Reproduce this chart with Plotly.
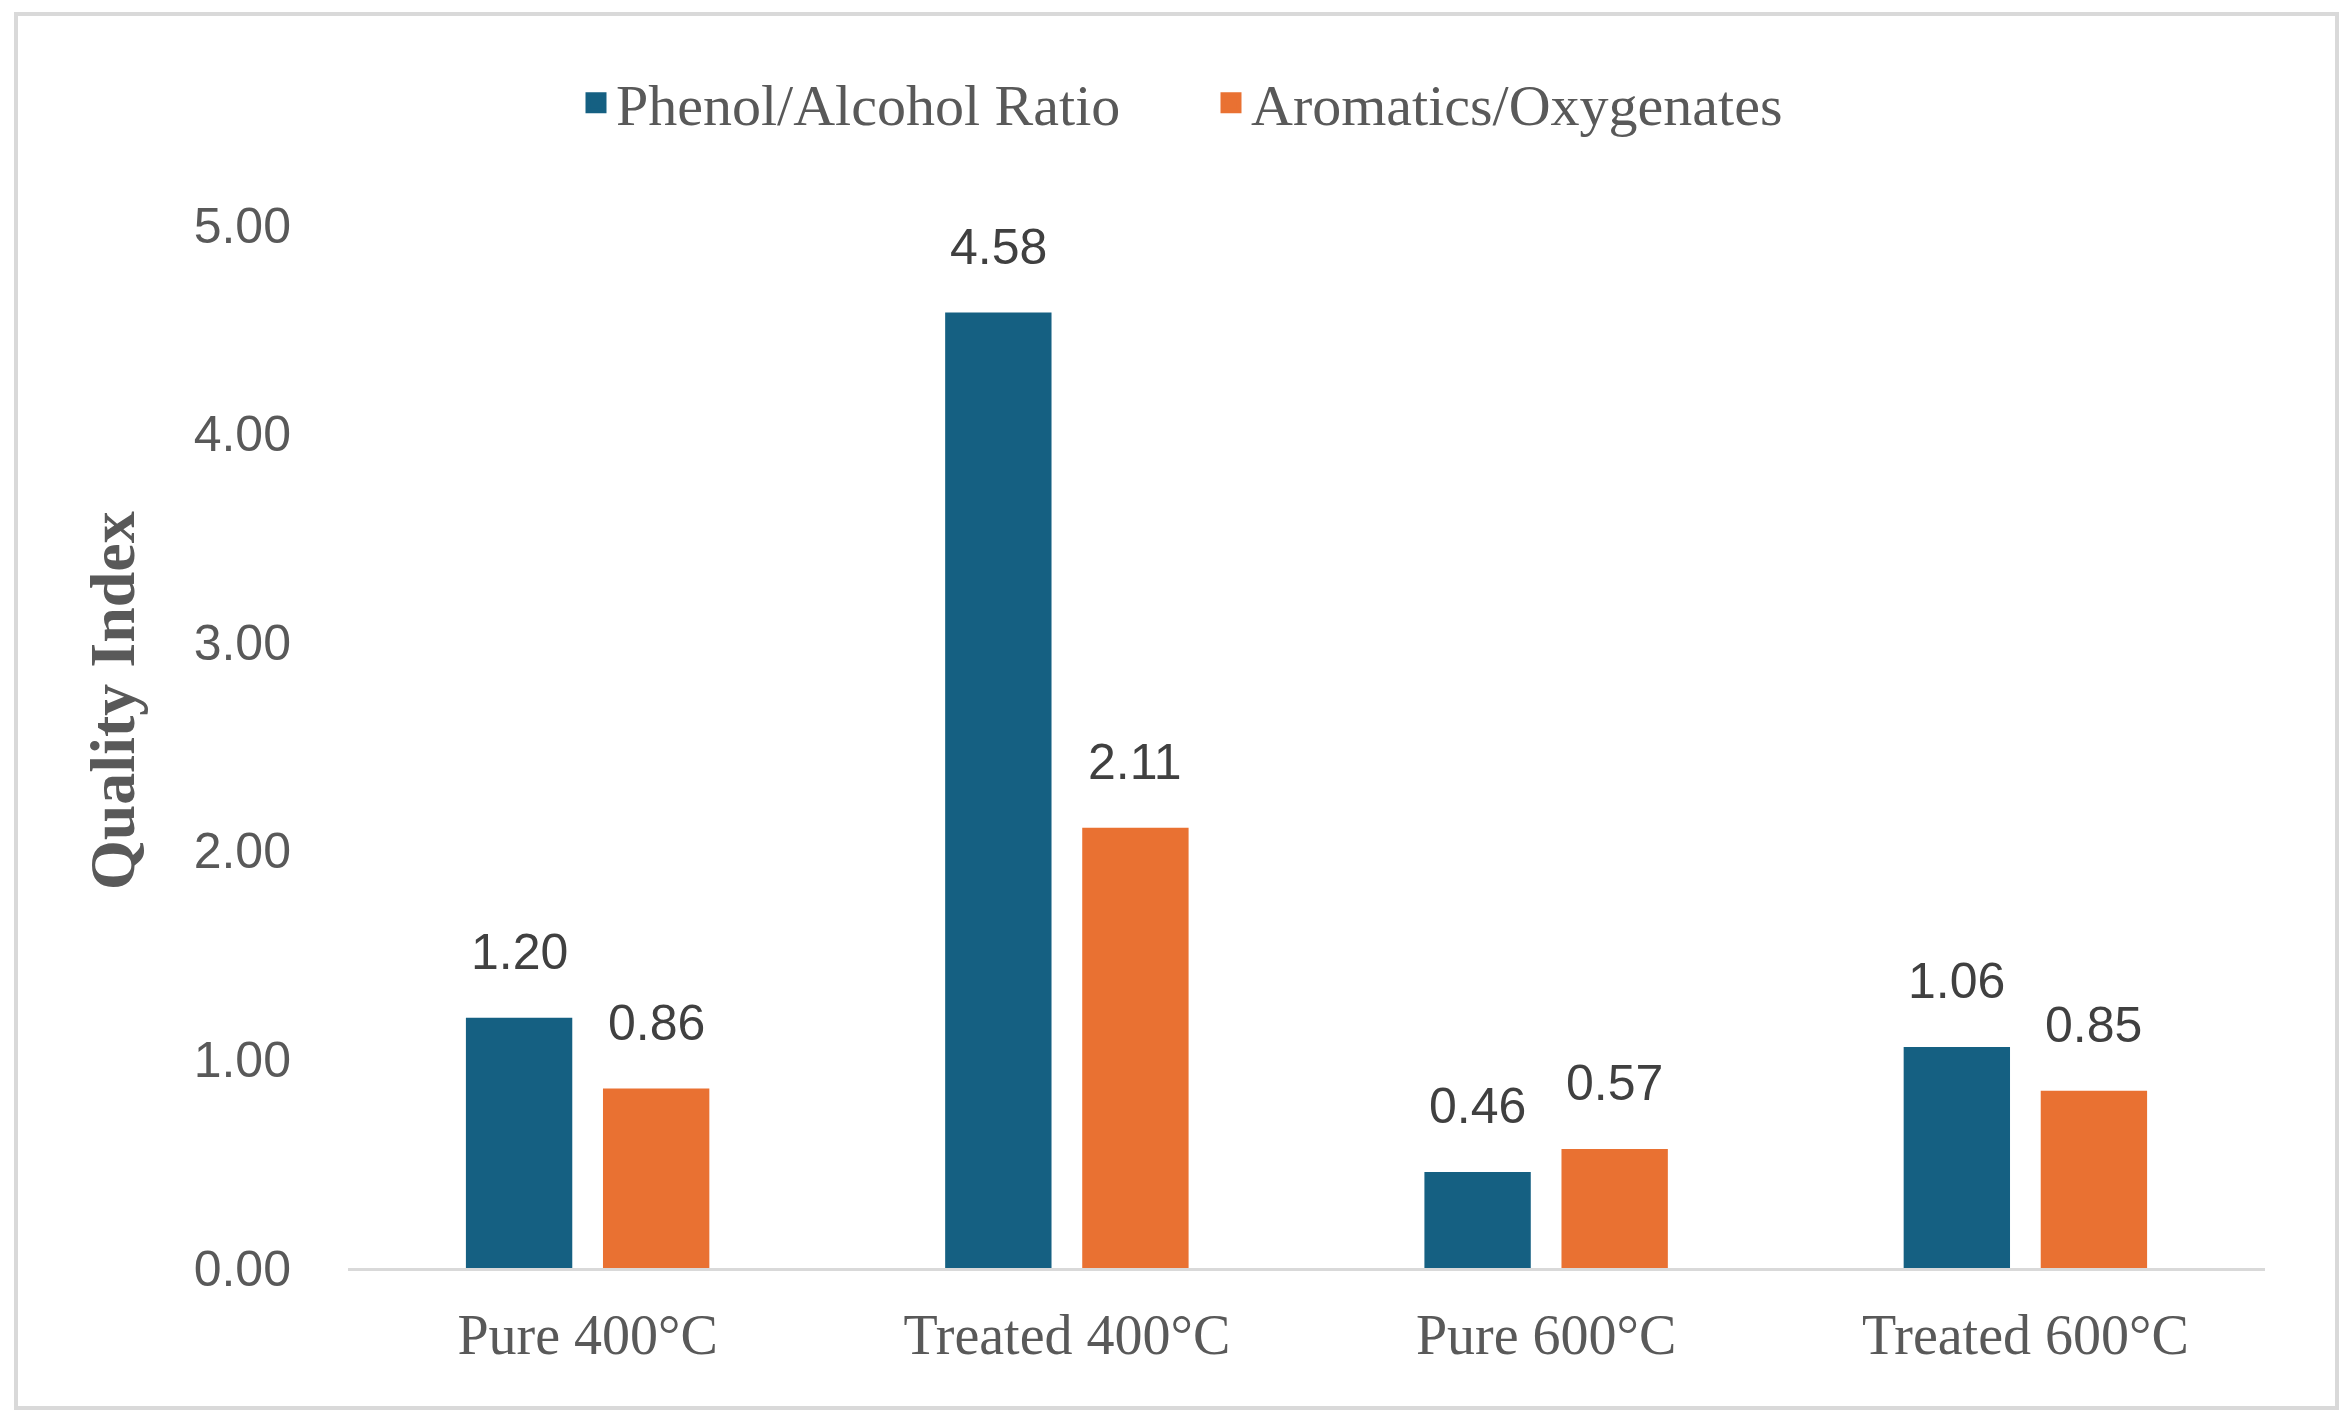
import plotly.graph_objects as go

categories = ["Pure 400°C", "Treated 400°C", "Pure 600°C", "Treated 600°C"]
phenol_alcohol = [1.20, 4.58, 0.46, 1.06]
aromatics_oxygenates = [0.86, 2.11, 0.57, 0.85]
series_names = ["Phenol/Alcohol Ratio", "Aromatics/Oxygenates"]
y_ticks = [0, 1, 2, 3, 4, 5]

BLUE = "#156082"
ORANGE = "#E97132"
W, H = 2351, 1424
ML, MR, MT, MB = 348, 86, 225, 156
PW, PH = W - ML - MR, H - MT - MB
BARGAP = 0.428
GROUPGAP = 0.224

fig = go.Figure()
for name, vals, col in [(series_names[0], phenol_alcohol, BLUE),
                        (series_names[1], aromatics_oxygenates, ORANGE)]:
    fig.add_trace(go.Bar(x=categories, y=vals, name=name, marker_color=col,
                         marker_line_width=0, showlegend=False))
    fig.add_trace(go.Scatter(x=[None], y=[None], mode="markers", name=name,
                             marker=dict(symbol="square", size=16, color=col,
                                         line=dict(color=col, width=5)),
                             showlegend=True))

# data labels above bars
slot = (1 - BARGAP) / 2
for k, vals in enumerate([phenol_alcohol, aromatics_oxygenates]):
    off = (k - 0.5) * slot
    for i, v in enumerate(vals):
        fig.add_annotation(x=i + off, y=v, xref="x", yref="y", text=f"{v:.2f}",
                           showarrow=False, yanchor="bottom", yshift=36,
                           font=dict(family="Liberation Sans, Arial", size=50, color="#404040"))

def px_x(p):
    return (p - ML) / PW

def px_y(p):
    return (H - MB - p) / PH

fig.add_shape(type="rect", xref="paper", yref="paper",
              x0=px_x(16), x1=px_x(2337), y0=px_y(1408), y1=px_y(14),
              line=dict(color="#D9D9D9", width=4), fillcolor="rgba(0,0,0,0)", layer="below")

fig.add_annotation(xref="paper", yref="paper", x=px_x(112), y=px_y(701),
                   xanchor="center", yanchor="middle",
                   text="<b>Quality Index</b>", textangle=-90, showarrow=False,
                   font=dict(family="Liberation Serif, Times New Roman", size=64, color="#595959"))

fig.update_layout(
    width=W, height=H,
    margin=dict(l=ML, r=MR, t=MT, b=MB),
    paper_bgcolor="white", plot_bgcolor="white",
    barmode="group", bargap=BARGAP, bargroupgap=GROUPGAP,
    legend=dict(orientation="h", x=px_x(576), xanchor="left",
                y=px_y(103), yanchor="middle",
                entrywidth=590, entrywidthmode="pixels",
                font=dict(family="Liberation Serif, Times New Roman", size=58, color="#595959"),
                itemsizing="trace", bgcolor="rgba(0,0,0,0)"),
    xaxis=dict(type="category", showline=True, linecolor="#D9D9D9", linewidth=3,
               showgrid=False, ticks="", ticklabelstandoff=16,
               tickfont=dict(family="Liberation Serif, Times New Roman", size=56, color="#595959")),
    yaxis=dict(range=[0, 5], tickvals=y_ticks, tickformat=".2f", showgrid=False,
               zeroline=False, showline=False, ticks="", ticklabelstandoff=56,
               tickfont=dict(family="Liberation Sans, Arial", size=50, color="#595959")),
)

fig.write_html("out.html", config={"displayModeBar": False},
               post_script="document.body.style.margin='0';")
